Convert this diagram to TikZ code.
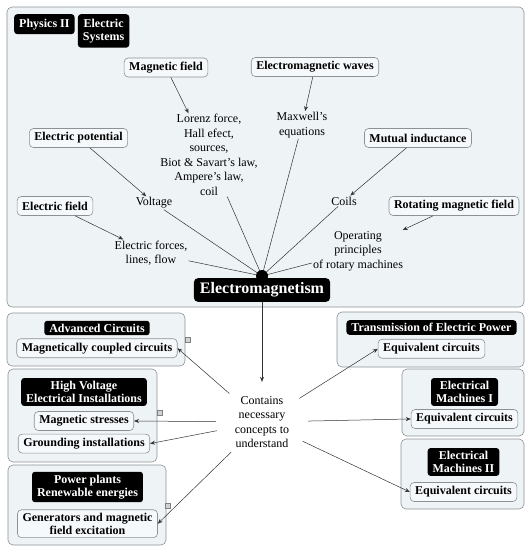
\documentclass[tikz,border=0pt]{standalone}
\usepackage{fontspec}
\setmainfont{Liberation Serif}
\usepackage{xcolor}
\usepackage{tikz}
\usetikzlibrary{
  arrows.meta, shapes.geometric,
  positioning
}
\definecolor{C_PANEL}{HTML}{EEF3F6}
\definecolor{C_BOX}{HTML}{F6F9FB}
\definecolor{C_EDGE}{HTML}{8C9196}
\definecolor{C_LINK}{HTML}{333333}

\begin{document}
\begin{tikzpicture}[
  x=1pt, y=-1pt,
  panel/.style={draw=C_EDGE, fill=C_PANEL, rounded corners=5pt, line width=0.6pt},
  tag/.style={fill=black, text=white, rounded corners=3pt, align=center,
              font=\fontsize{12}{13.5}\selectfont\bfseries, inner xsep=5pt, inner ysep=3pt},
  topic/.style={draw=C_EDGE, fill=C_BOX, rounded corners=4pt, align=center, line width=0.6pt,
                font=\fontsize{12}{13.5}\selectfont\bfseries, inner xsep=5pt, inner ysep=3pt,
                minimum height=19pt},
  note/.style={font=\fontsize{12}{14.5}\selectfont, align=center, inner sep=1pt},
  core/.style={fill=black, text=white, rounded corners=4pt,
               font=\fontsize{16}{18}\selectfont\bfseries, inner xsep=6pt, inner ysep=4.5pt},
  link/.style={-{Stealth[length=5pt, width=4pt]}, C_LINK, line width=0.5pt},
  spoke/.style={C_LINK, line width=0.5pt},
  foldmark/.style={draw=gray, fill=gray!35, minimum size=5pt, inner sep=0pt},
]
\useasboundingbox (0,0) rectangle (526,547);

%% Panels
\draw[panel] (7,7)     rectangle (524,307);
\draw[panel] (7,313)   rectangle (185,366);
\draw[panel] (8,369)   rectangle (157,462);
\draw[panel] (8,465)   rectangle (166,545);
\draw[panel] (337,312) rectangle (524,367);
\draw[panel] (402,369) rectangle (524,436);
\draw[panel] (401,439) rectangle (524,509);

%% Course tags
\node[tag, inner ysep=4.5pt, anchor=north west] (phys) at (14,14) {Physics II};
\node[tag, inner ysep=4.5pt, anchor=north west] (esys) at ([xshift=3pt]phys.north east)
      {Electric\\Systems};

%% Topics around the hub
\node[topic] (magf)   at (166,67.5) {Magnetic field};
\node[topic] (emw)    at (315,67)   {Electromagnetic waves};
\node[topic] (epot)   at (78.5,138) {Electric potential};
\node[topic] (mutind) at (418,138)  {Mutual inductance};
\node[topic] (efield) at (55,206)   {Electric field};
\node[topic] (rotf)   at (454,206)  {Rotating magnetic field};

%% Notes
\node[note] (lorenz)  at (209,155) {Lorenz force,\\Hall efect,\\sources,\\Biot \& Savart's law,\\Ampere's law,\\coil};
\node[note] (maxwell) at (302,125) {Maxwell's\\equations};
\node[note] (voltage) at (154,203) {Voltage};
\node[note] (coils)   at (344,201) {Coils};
\node[note] (forces)  at (151,253) {Electric forces,\\lines, flow};
\node[note] (rotary)  at (358,251) {Operating\\principles\\of rotary machines};

%% Hub
\coordinate (hub) at (262,276);
\draw[link] (magf)   -- (lorenz);
\draw[link] (emw)    -- (maxwell);
\draw[link] (epot)   -- (voltage);
\draw[link] (efield) -- (forces);
\draw[link] (mutind) -- (coils);
\draw[link] (rotf)   -- (rotary);
\foreach \n in {lorenz, maxwell, voltage, forces, coils, rotary}
  \draw[spoke] (\n) -- (hub);
\fill (hub) circle (6pt);
\node[core] (em) at (262,290) {Electromagnetism};

%% Courses that use it
\node[note, ellipse, minimum width=92pt, minimum height=80pt] (contains) at (262,422)
      {Contains\\necessary\\concepts to\\understand};
\draw[link] (em) -- (contains);

\node[tag] (advc) at (97,328) {Advanced Circuits};
\node[topic, below=3pt of advc] (magcoup) {Magnetically coupled circuits};

\node[tag] (hv) at (84,392) {High Voltage\\Electrical Installations};
\node[topic, below=5pt of hv] (magstress) {Magnetic stresses};
\node[topic, below=3pt of magstress] (ground) {Grounding installations};

\node[tag] (pp) at (87.5,487) {Power plants\\Renewable energies};
\node[topic, below=7pt of pp] (gener) {Generators and magnetic\\field excitation};

\node[tag] (tep) at (431.5,327.5) {Transmission of Electric Power};
\node[topic, below=4pt of tep] (tepeq) {Equivalent circuits};

\node[tag] (em1) at (464.5,392) {Electrical\\Machines I};
\node[topic, below=3pt of em1] (em1eq) {Equivalent circuits};

\node[tag] (em2) at (463.5,462) {Electrical\\Machines II};
\node[topic, below=6pt of em2] (em2eq) {Equivalent circuits};

\draw[link] (contains) -- (magcoup.east);
\draw[link] (contains) -- (magstress.east);
\draw[link] (contains) -- (ground.east);
\draw[link] (contains) -- (gener.east);
\draw[link] (contains) -- (tepeq.west);
\draw[link] (contains) -- (em1eq.west);
\draw[link] (contains) -- (em2eq.west);

%% Collapse markers
\node[foldmark] (foldA) at (188,340) {};
\node[foldmark] (foldB) at (160,413) {};
\node[foldmark] (foldC) at (168,506) {};

\end{tikzpicture}
\end{document}
